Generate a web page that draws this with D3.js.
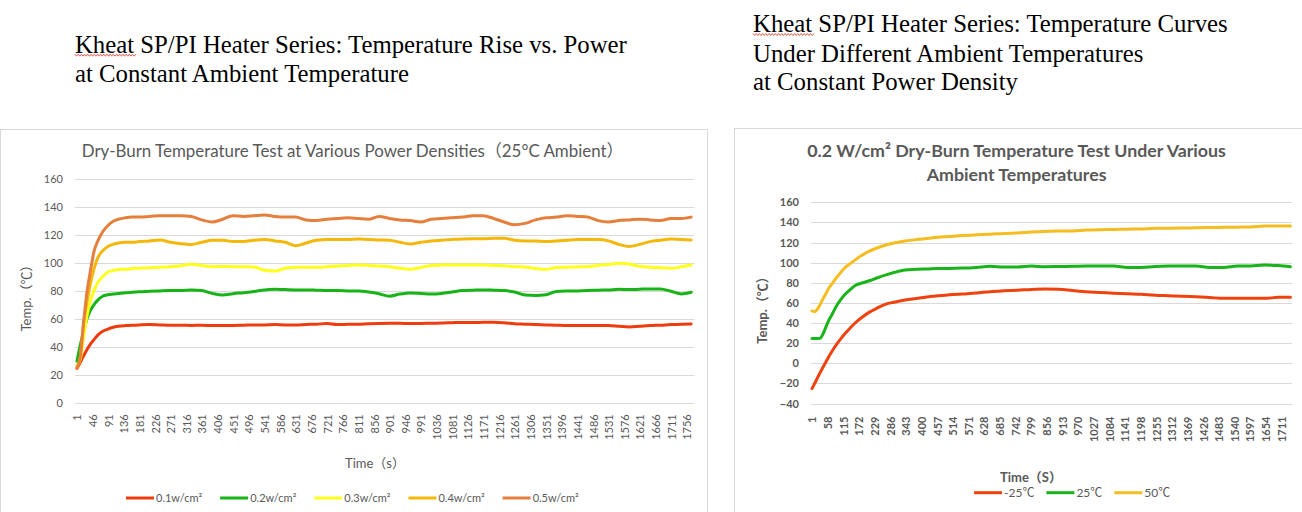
<!DOCTYPE html>
<html>
<head>
<meta charset="utf-8">
<script src="https://cdn.jsdelivr.net/npm/d3@7"></script>
<style>
  body { margin: 0; background: #fff; }
  svg { display: block; }
</style>
</head>
<body>
<div id="chart"></div>
<script>
// ---------- data: left chart (25°C ambient, various power densities) ----------
var timeLeft = [1, 10, 20, 30, 40, 50, 60, 75, 90, 105, 120, 140, 160, 180,
  210, 240, 270, 300, 330, 360, 390, 420, 450, 480,
  510, 540, 570, 600, 630, 660, 690, 720, 750, 780,
  810, 840, 870, 900, 930, 960, 990, 1020, 1050, 1080,
  1110, 1140, 1170, 1200, 1230, 1260, 1290, 1320, 1350, 1380,
  1410, 1440, 1470, 1500, 1530, 1560, 1590, 1620, 1650, 1680,
  1710, 1740, 1768];

var temp01 = [25, 29, 34, 38.5, 42.5, 45.5, 48.5, 51.5, 53, 54.3, 55, 55.5, 55.8, 56,
  56.2, 56, 55.8, 55.8, 55.6, 55.8, 55.5, 55.5, 55.6, 55.8,
  56, 56, 56.2, 56, 56, 56.3, 56.5, 57, 56.3, 56.4,
  56.5, 56.8, 57, 57.1, 57.1, 57, 57, 57.2, 57.3, 57.6,
  57.8, 57.7, 57.9, 57.9, 57.5, 56.8, 56.5, 56.2, 56, 55.8,
  55.5, 55.5, 55.6, 55.6, 55.5, 55, 54.5, 55, 55.5, 55.8,
  56.2, 56.4, 56.7];

var temp02 = [30, 41, 51, 60.5, 66.5, 70.5, 73.5, 76.5, 77.5, 78, 78.4, 79, 79.3, 79.6,
  80, 80.3, 80.5, 80.5, 81, 80.5, 78.5, 77.3, 78.3, 79,
  79.8, 81, 81.4, 81.2, 81, 81, 80.8, 80.5, 80.5, 80.3,
  80.2, 79.5, 78.3, 76.5, 78, 78.8, 78.5, 78.1, 78.5, 79.5,
  80.5, 80.8, 81, 80.8, 80.5, 79.5, 77.3, 77, 77.5, 79.8,
  80.2, 80.3, 80.5, 80.8, 81, 81.4, 81.2, 81.5, 81.7, 81.7,
  80, 78.1, 79.3];

var temp03 = [27, 31, 47, 63, 73.5, 80.5, 86, 90.5, 93.8, 94.8, 95.5, 95.8, 96.2, 96.5,
  96.8, 97.2, 97.6, 98.3, 99.3, 98.5, 97.6, 97.8, 97.6, 97.6,
  97.4, 95, 94.5, 96.5, 97.1, 97.1, 97.1, 97.5, 98, 98.5,
  98.8, 98.5, 98, 97.6, 96.5, 95.7, 97, 98.5, 98.8, 98.8,
  98.8, 98.8, 98.8, 98.5, 98.3, 97.6, 97.3, 96.3, 95.7, 97,
  97.2, 97.4, 97.6, 98.5, 99.2, 100, 99.5, 97.8, 97.2, 96.8,
  96.4, 97.5, 98.8];

var temp04 = [26, 32, 57, 72.5, 86, 96, 103.5, 109, 112, 113.5, 114.5, 115, 115, 115.5,
  116, 116.7, 115, 114, 113.5, 115, 116.5, 116.5, 115.5, 115.5,
  116.5, 117, 116, 115, 112.5, 114.5, 116.5, 117, 117, 117,
  117.4, 117, 116.7, 116.5, 115, 113.8, 115, 116, 116.5, 117,
  117.4, 117.5, 117.5, 117.9, 117.9, 116.5, 116, 116, 115.5, 116,
  116.5, 117, 117, 117, 116, 113.5, 112, 113.5, 115.5, 116.5,
  117.4, 117, 116.7];

var temp05 = [25, 33, 58, 80, 95, 108.5, 115.5, 122.5, 127, 130, 131.5, 132.5, 133, 133,
  133.5, 134, 134, 134, 133.5, 131, 129.5, 131.5, 134, 133.5,
  134, 134.5, 133.5, 133, 133, 131, 130.5, 131.5, 132, 132.5,
  132, 131.5, 133.5, 132, 131, 130.5, 129.5, 131.5, 132, 132.5,
  133, 134, 134, 132, 129.5, 127.5, 128.5, 131, 132.5, 133,
  134, 133.5, 133, 130.5, 129.5, 130.5, 131, 131.5, 131, 130.5,
  132, 132, 133];

var powerNames = ["0.1w/cm²", "0.2w/cm²", "0.3w/cm²", "0.4w/cm²", "0.5w/cm²"];
var powerColors = ["#ef3b10", "#17b417", "#ffff1e", "#f5b80a", "#e67f3c"];
var powerValues = [temp01, temp02, temp03, temp04, temp05];
var leftYTicks = [0, 20, 40, 60, 80, 100, 120, 140, 160];
var leftXTicks = d3.range(1, 1757, 45);

// ---------- data: right chart (0.2 W/cm², various ambient temperatures) ----------
var timeRight = [1, 10, 20, 30, 40, 50, 60, 75, 90, 105, 120, 140, 160, 180,
  210, 240, 270, 300, 340, 380, 420, 460, 500,
  550, 600, 650, 700, 750, 800, 850, 900, 950, 1000, 1050, 1100,
  1150, 1200, 1250, 1300, 1350, 1400, 1450, 1500, 1550, 1600, 1650, 1700, 1744];

var ambMinus25 = [-25, -20.5, -15, -9.5, -4.5, 0.5, 5.5, 12.5, 18.5, 24, 29, 35, 40.5, 45,
  50.8, 55, 58.8, 60.7, 62.8, 64.3, 65.8, 67.1, 68,
  68.9, 69.8, 71.2, 72, 72.6, 73.4, 73.8, 73.6, 72.3, 71, 70.4, 69.6,
  69, 68.5, 67.6, 67.1, 66.6, 66, 65.4, 64.5, 64.5, 64.5, 64.5, 65.5, 65.5];

var amb25 = [24.7, 24.7, 24.7, 24.8, 28.5, 35, 41.5, 49, 57, 63, 68, 73.2, 77.5, 79.5,
  82, 85, 87.8, 90.2, 92.7, 93.4, 93.8, 94.3, 94.3,
  94.6, 95.3, 96.4, 95.6, 95.6, 96.6, 96, 96.2, 96.4, 96.6, 96.6, 96.6,
  95.3, 95.3, 96.2, 96.6, 96.6, 96.6, 95.3, 95.3, 96.6, 96.8, 97.6, 97.2, 96];

var amb50 = [52, 51.3, 53.5, 58, 63.5, 68.5, 73.5, 79.5, 85, 90, 94.7, 99, 103, 106.8,
  111.5, 114.8, 117.5, 119.5, 121.5, 122.9, 124, 125.2, 126,
  127, 127.7, 128.3, 129.1, 129.6, 130.4, 131, 131.5, 131.5, 132.4, 132.8, 133,
  133.3, 133.5, 134.1, 134.2, 134.4, 134.7, 134.9, 135.1, 135.3, 135.5, 136.4, 136.5, 136.5];

var ambNames = ["-25℃", "25℃", "50℃"];
var ambColors = ["#f0420f", "#19b419", "#f6bd20"];
var ambValues = [ambMinus25, amb25, amb50];
var rightYTicks = [-40, -20, 0, 20, 40, 60, 80, 100, 120, 140, 160];
var rightXTicks = d3.range(1, 1712, 57);

// ---------- setup ----------
var svgWidth = 1302;
var svgHeight = 512;
var sansFont = "Lato, 'Noto Sans CJK SC', sans-serif";
var greyText = "#595959";
var gridColor = "#d9d9d9";

var svg = d3.select("#chart")
  .append("svg")
  .attr("width", svgWidth)
  .attr("height", svgHeight);

// font size that makes a text span the given width
function fittedSize(sel, target) {
  var w = sel.node().getComputedTextLength();
  return parseFloat(sel.attr("font-size")) * target / w;
}

// spell-check squiggle under a word
function squiggle(x0, x1, y) {
  var pts = [];
  for (var x = x0, i = 0; x <= x1; x += 1.6, i++) {
    pts.push([x, y + (i % 2 ? 1 : -1)]);
  }
  return d3.line()(pts);
}

// ---------- document headings ----------
function heading(lines, x, baselines, firstWidth, wordEnd) {
  var g = svg.append("g");
  var texts = lines.map(function(line, i) {
    return g.append("text")
      .attr("x", x)
      .attr("y", baselines[i])
      .attr("font-family", "'Liberation Serif', 'Times New Roman', serif")
      .attr("font-size", 23)
      .attr("fill", "#000")
      .text(line);
  });
  var fs = fittedSize(texts[0], firstWidth);
  texts.forEach(function(t) { t.attr("font-size", fs); });

  g.append("path")
    .attr("d", squiggle(x, wordEnd, baselines[0] + 2.5))
    .attr("fill", "none")
    .attr("stroke", "#e0301e")
    .attr("stroke-width", 0.8);
}

heading(["Kheat SP/PI Heater Series: Temperature Rise vs. Power",
  "at Constant Ambient Temperature"], 75, [52.7, 81.7], 552, 137);

heading(["Kheat SP/PI Heater Series: Temperature Curves",
  "Under Different Ambient Temperatures",
  "at Constant Power Density"], 753, [32, 61.5, 90], 475, 814);

// ---------- generic chart drawer ----------
function drawChart(cfg) {
  var g = svg.append("g");

  // panel border
  g.append("rect")
    .attr("x", cfg.panel[0] + 0.5)
    .attr("y", cfg.panel[1] + 0.5)
    .attr("width", cfg.panel[2])
    .attr("height", cfg.panel[3])
    .attr("fill", "none")
    .attr("stroke", gridColor)
    .attr("stroke-width", 1);

  var xScale = d3.scaleLinear().domain(cfg.xDomain).range(cfg.xRange);
  var yScale = d3.scaleLinear().domain(cfg.yDomain).range(cfg.yRange);

  // gridlines
  g.append("g")
    .selectAll("line")
    .data(cfg.yTicks)
    .enter()
    .append("line")
    .attr("x1", cfg.gridX[0])
    .attr("x2", cfg.gridX[1])
    .attr("y1", d => Math.round(yScale(d)) + 0.5)
    .attr("y2", d => Math.round(yScale(d)) + 0.5)
    .attr("stroke", gridColor)
    .attr("stroke-width", 1);

  // y axis labels
  var leftAxis = d3.axisLeft(yScale)
    .tickValues(cfg.yTicks)
    .tickSize(0)
    .tickPadding(12);
  var yAxis = g.append("g")
    .attr("transform", `translate(${cfg.gridX[0]}, 0)`)
    .call(leftAxis);
  yAxis.select(".domain").remove();
  yAxis.selectAll("text")
    .attr("font-family", sansFont)
    .attr("font-size", 11)
    .attr("font-weight", cfg.bold ? "bold" : "normal")
    .attr("fill", greyText);

  // x axis labels (rotated)
  var bottomAxis = d3.axisBottom(xScale)
    .tickValues(cfg.xTicks)
    .tickSize(0)
    .tickFormat(d3.format("d"));
  var xAxis = g.append("g")
    .attr("transform", `translate(0, ${yScale(cfg.yDomain[0])})`)
    .call(bottomAxis);
  xAxis.select(".domain").remove();
  xAxis.selectAll("text")
    .attr("transform", "rotate(-90)")
    .attr("x", -cfg.xLabelGap)
    .attr("y", 0)
    .attr("dy", "0.35em")
    .attr("text-anchor", "end")
    .attr("font-family", sansFont)
    .attr("font-size", 11)
    .attr("font-weight", cfg.bold ? "bold" : "normal")
    .attr("fill", greyText);

  // lines
  var line = d3.line()
    .x((d, i) => xScale(cfg.times[i]))
    .y(d => yScale(d))
    .curve(d3.curveMonotoneX);

  g.append("g")
    .selectAll("path")
    .data(cfg.values)
    .enter()
    .append("path")
    .attr("d", d => line(d))
    .attr("fill", "none")
    .attr("stroke", (d, i) => cfg.colors[i])
    .attr("stroke-width", 3)
    .attr("stroke-linejoin", "round")
    .attr("stroke-linecap", "round");

  // chart title (size fitted on the first line, shared by the rest)
  var titleSize = 18;
  cfg.title.forEach(function(t, i) {
    var tt = g.append("text")
      .attr("x", cfg.titlePos[0])
      .attr("y", cfg.titlePos[1] + i * 24)
      .attr("text-anchor", "middle")
      .attr("font-family", sansFont)
      .attr("font-size", titleSize)
      .attr("font-weight", cfg.bold ? "bold" : "normal")
      .attr("fill", greyText)
      .text(t);
    if (i === 0) {
      titleSize = fittedSize(tt, cfg.titleWidth);
      tt.attr("font-size", titleSize);
    }
  });

  // axis titles
  g.append("text")
    .attr("x", cfg.xTitlePos[0])
    .attr("y", cfg.xTitlePos[1])
    .attr("text-anchor", "middle")
    .attr("dy", "0.35em")
    .attr("font-family", sansFont)
    .attr("font-size", 13)
    .attr("font-weight", cfg.bold ? "bold" : "normal")
    .attr("fill", greyText)
    .text(cfg.xTitle);

  g.append("text")
    .attr("transform", `translate(${cfg.yTitlePos[0]}, ${cfg.yTitlePos[1]}) rotate(-90)`)
    .attr("text-anchor", "middle")
    .attr("dy", "0.35em")
    .attr("font-family", sansFont)
    .attr("font-size", 13)
    .attr("font-weight", cfg.bold ? "bold" : "normal")
    .attr("fill", greyText)
    .text(cfg.yTitle);

  // legend, laid out left to right
  var lx = cfg.legendPos[0];
  cfg.names.forEach(function(name, i) {
    g.append("line")
      .attr("x1", lx)
      .attr("x2", lx + 28)
      .attr("y1", cfg.legendPos[1])
      .attr("y2", cfg.legendPos[1])
      .attr("stroke", cfg.colors[i])
      .attr("stroke-width", 3);
    var lt = g.append("text")
      .attr("x", lx + 30)
      .attr("y", cfg.legendPos[1])
      .attr("dy", "0.35em")
      .attr("font-family", sansFont)
      .attr("font-size", cfg.legendSize)
      .attr("fill", greyText)
      .text(name);
    lx += 30 + lt.node().getComputedTextLength() + cfg.legendGap;
  });
}

// left chart
drawChart({
  panel: [0, 129, 707, 400],
  xDomain: [1, 1756], xRange: [77, 687],
  yDomain: [0, 160], yRange: [403.3, 179.3],
  gridX: [75, 694],
  xTicks: leftXTicks, yTicks: leftYTicks, xLabelGap: 11,
  times: timeLeft, values: powerValues, colors: powerColors, names: powerNames,
  title: ["Dry-Burn Temperature  Test at Various Power Densities（25°C Ambient）"],
  titlePos: [352.6, 156.5], titleWidth: 542,
  xTitle: "Time（s）", xTitlePos: [375, 463],
  yTitle: "Temp.（℃）", yTitlePos: [26, 295],
  legendPos: [126, 498], legendSize: 11, legendGap: 18,
  bold: false
});

// right chart
drawChart({
  panel: [734, 128, 600, 400],
  xDomain: [1, 1711], xRange: [812, 1281.4],
  yDomain: [-40, 160], yRange: [403.5, 202.3],
  gridX: [811, 1292],
  xTicks: rightXTicks, yTicks: rightYTicks, xLabelGap: 13,
  times: timeRight, values: ambValues, colors: ambColors, names: ambNames,
  title: ["0.2 W/cm² Dry-Burn Temperature Test Under Various", "Ambient Temperatures"],
  titlePos: [1016.6, 157], titleWidth: 419,
  xTitle: "Time（S）", xTitlePos: [1031, 477.7],
  yTitle: "Temp.（℃）", yTitlePos: [762, 307],
  legendPos: [974, 492.7], legendSize: 12, legendGap: 12,
  bold: true
});
</script>
</body>
</html>
